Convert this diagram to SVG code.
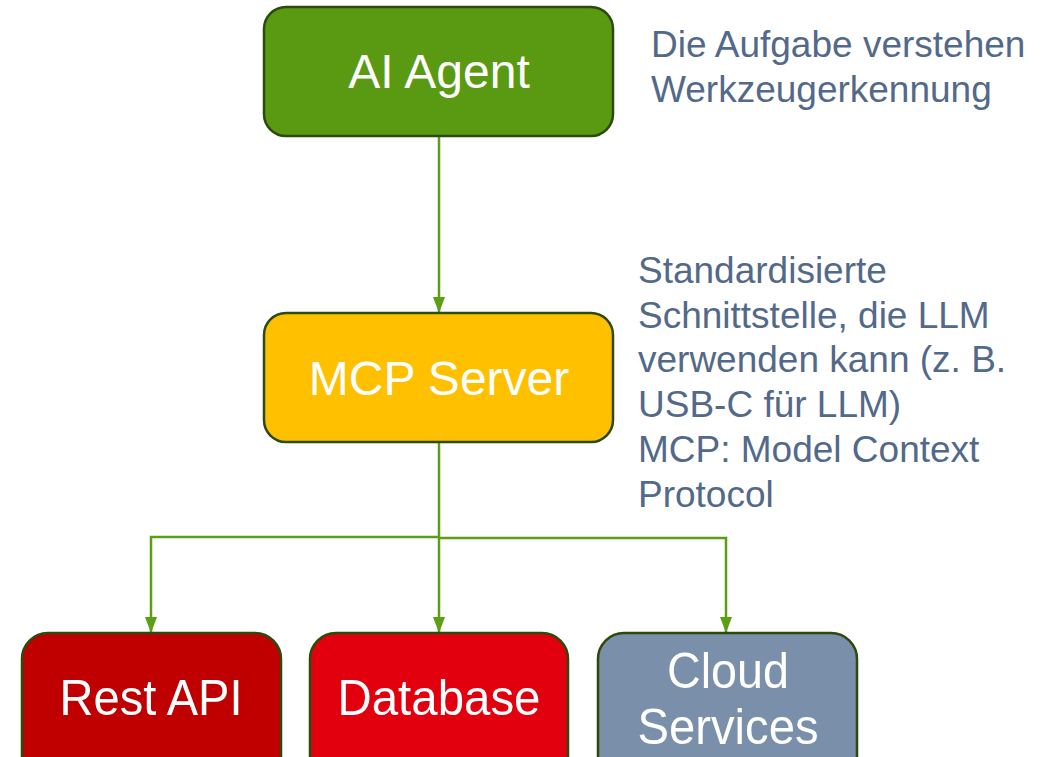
<svg xmlns="http://www.w3.org/2000/svg" width="1048" height="757" viewBox="0 0 1048 757">
  <style>
    .box { stroke: #2b4a0c; stroke-width: 2.5; }
    .lbl { font-family: "Liberation Sans", Arial, sans-serif; fill: #ffffff; text-anchor: middle; }
    .note { font-family: "Liberation Sans", Arial, sans-serif; font-size: 37px; fill: #53698a; }
    .wire { fill: none; stroke: #5c9e14; stroke-width: 2.5; }
  </style>
  <defs>
    <marker id="arrowDown" viewBox="0 0 16 12" refX="16" refY="6" markerWidth="16" markerHeight="12" markerUnits="userSpaceOnUse" orient="auto">
      <path d="M0 0 L16 6 L0 12 Z" fill="#5c9e14"/>
    </marker>
  </defs>

  <rect width="1048" height="757" fill="#ffffff"/>

  <!-- connectors -->
  <g id="connectors">
    <path class="wire" d="M439 136 V313" marker-end="url(#arrowDown)"/>
    <path class="wire" d="M439 442 V633" marker-end="url(#arrowDown)"/>
    <path class="wire" d="M439 537 H151 V633" marker-end="url(#arrowDown)"/>
    <path class="wire" d="M439 538 H726 V633" marker-end="url(#arrowDown)"/>
  </g>

  <g id="ai-agent">
    <rect class="box" x="264" y="7" width="349" height="129" rx="22" fill="#5a9a12"/>
    <text class="lbl" x="439" y="88" font-size="48">AI Agent</text>
  </g>

  <g id="mcp-server">
    <rect class="box" x="264" y="313" width="349" height="129" rx="22" fill="#ffc000"/>
    <text class="lbl" x="439" y="395" font-size="48">MCP Server</text>
  </g>

  <g id="rest-api">
    <rect class="box" x="22" y="633" width="259" height="160" rx="26" fill="#c00000"/>
    <text class="lbl" x="151" y="715" font-size="50" textLength="183" lengthAdjust="spacingAndGlyphs">Rest API</text>
  </g>

  <g id="database">
    <rect class="box" x="310" y="633" width="258" height="160" rx="26" fill="#e2000f"/>
    <text class="lbl" x="439" y="715" font-size="50" textLength="203" lengthAdjust="spacingAndGlyphs">Database</text>
  </g>

  <g id="cloud-services">
    <rect class="box" x="598" y="633" width="259" height="160" rx="26" fill="#7a8faa"/>
    <text class="lbl" x="728" y="688" font-size="50" textLength="122" lengthAdjust="spacingAndGlyphs">Cloud</text>
    <text class="lbl" x="728" y="744" font-size="50" textLength="181" lengthAdjust="spacingAndGlyphs">Services</text>
  </g>

  <g id="note-agent">
    <text class="note" x="651" y="57">Die Aufgabe verstehen</text>
    <text class="note" x="651" y="102">Werkzeugerkennung</text>
  </g>

  <g id="note-server">
    <text class="note" x="638" y="283">Standardisierte</text>
    <text class="note" x="638" y="328">Schnittstelle, die LLM</text>
    <text class="note" x="638" y="372">verwenden kann (z. B.</text>
    <text class="note" x="638" y="417">USB-C für LLM)</text>
    <text class="note" x="638" y="462">MCP: Model Context</text>
    <text class="note" x="638" y="507">Protocol</text>
  </g>
</svg>
